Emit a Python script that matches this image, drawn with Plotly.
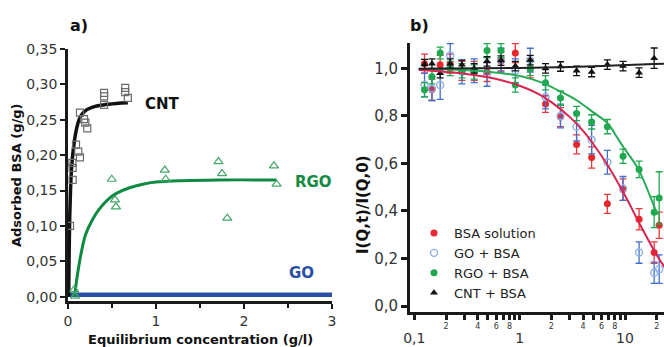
import plotly.graph_objects as go

FONT = "DejaVu Sans"

# ---------------- Panel a) data ----------------
cnt_conc = [0.023, 0.053, 0.053, 0.050, 0.091, 0.117, 0.136, 0.136, 0.182, 0.197, 0.219,
            0.41, 0.41, 0.41, 0.65, 0.65, 0.68]
cnt_ads = [0.100, 0.165, 0.182, 0.189, 0.215, 0.205, 0.197, 0.260, 0.251, 0.246, 0.238,
           0.288, 0.283, 0.271, 0.295, 0.289, 0.281]
rgo_conc = [0.07, 0.08, 0.497, 0.534, 0.545, 1.10, 1.11, 1.71, 1.75, 1.81, 2.34, 2.37]
rgo_ads = [0.010, 0.001, 0.166, 0.137, 0.127, 0.179, 0.166, 0.191, 0.174, 0.111, 0.185, 0.159]

cnt_fit_conc = [0.008, 0.011, 0.015, 0.020, 0.027, 0.036, 0.048, 0.062, 0.080, 0.100, 0.125,
                0.160, 0.210, 0.280, 0.400, 0.550, 0.680]
cnt_fit_ads = [0.000, 0.040, 0.080, 0.115, 0.145, 0.172, 0.193, 0.210, 0.226, 0.239, 0.250,
               0.258, 0.264, 0.268, 0.271, 0.273, 0.274]
rgo_fit_conc = [0.075, 0.10, 0.15, 0.20, 0.27, 0.35, 0.45, 0.55, 0.70, 0.85, 1.00, 1.30, 1.70, 2.37]
rgo_fit_ads = [0.000, 0.025, 0.062, 0.088, 0.107, 0.123, 0.137, 0.146, 0.154, 0.159, 0.162,
               0.164, 0.165, 0.165]
go_fit_conc = [0, 3]
go_fit_ads = [0.003, 0.003]

a_xticks = [0, 1, 2, 3]
a_xticklabels = ["0", "1", "2", "3"]
a_yticks = [0, 0.05, 0.10, 0.15, 0.20, 0.25, 0.30, 0.35]
a_yticklabels = ["0,00", "0,05", "0,10", "0,15", "0,20", "0,25", "0,30", "0,35"]

# ---------------- Panel b) data ----------------
t = [0.125, 0.147, 0.176, 0.219, 0.283, 0.37, 0.49, 0.665, 0.91, 1.26, 1.76, 2.44,
     3.47, 4.82, 6.8, 9.57, 13.6, 18.9, 21.1]
bsa_i = [1.02, 0.91, 1.015, 1.02, 0.99, 0.99, 0.985, 1.03, 1.065, 1.0, 0.85, 0.795,
         0.68, 0.625, 0.43, 0.49, 0.365, 0.225, 0.34]
bsa_err = [0.04, 0.045, 0.04, 0.04, 0.04, 0.04, 0.04, 0.04, 0.04, 0.04, 0.035, 0.04,
           0.04, 0.045, 0.04, 0.045, 0.045, 0.045, 0.055]
gob_i = [0.93, 0.915, 0.93, 1.055, 0.985, 0.99, 0.975, 1.035, 0.99, 1.035, 0.88, 0.80,
         0.755, 0.70, 0.605, 0.495, 0.225, 0.14, 0.155]
gob_err = [0.05, 0.05, 0.06, 0.05, 0.05, 0.05, 0.05, 0.05, 0.05, 0.05, 0.05, 0.05,
           0.06, 0.06, 0.05, 0.05, 0.045, 0.045, 0.06]
rgob_i = [0.91, 0.965, 1.065, 1.0, 0.99, 0.985, 1.075, 1.075, 0.93, 1.0, 0.94, 0.875,
          0.81, 0.775, 0.755, 0.63, 0.575, 0.395, 0.455]
rgob_err = [0.03, 0.03, 0.025, 0.03, 0.03, 0.03, 0.03, 0.03, 0.03, 0.03, 0.03, 0.03,
            0.03, 0.03, 0.03, 0.03, 0.035, 0.065, 0.11]
cntb_t = [0.125, 0.147, 0.176, 0.219, 0.283, 0.37, 0.49, 0.665, 0.91, 1.26, 1.76, 2.44,
          3.47, 4.82, 6.8, 9.57, 13.6, 18.9]
cntb_i = [1.018, 1.02, 0.98, 1.02, 1.015, 1.0, 1.03, 1.033, 1.01, 1.035, 1.0, 1.008,
          0.99, 0.985, 1.016, 1.01, 0.982, 1.043]
cntb_err = [0.02] * 17 + [0.043]

bsa_fit_t = [0.11, 0.2, 0.3, 0.5, 0.7, 1, 1.5, 2, 3, 4, 5, 7, 10, 14, 20, 25]
bsa_fit_i = [0.993, 0.985, 0.978, 0.963, 0.948, 0.927, 0.893, 0.858, 0.795, 0.737,
             0.682, 0.585, 0.465, 0.34, 0.215, 0.148]
rgob_fit_t = [0.11, 0.2, 0.3, 0.5, 0.9, 1.3, 1.8, 2.5, 3.5, 5, 6.8, 8.4, 9.6, 13.4, 19.3, 20.5]
rgob_fit_i = [0.998, 0.996, 0.993, 0.986, 0.972, 0.955, 0.932, 0.9, 0.865, 0.815, 0.77,
              0.71, 0.67, 0.575, 0.41, 0.385]
cntb_fit_t = [0.11, 1, 3, 6, 10, 16, 25]
cntb_fit_i = [0.999, 1.002, 1.006, 1.01, 1.014, 1.018, 1.02]

b_major = [0.1, 1, 10]
b_major_labels = ["0,1", "1", "10"]
b_minor = [0.2, 0.3, 0.4, 0.5, 0.6, 0.7, 0.8, 0.9, 2, 3, 4, 5, 6, 7, 8, 9, 20]
b_minor_labels = ["2", "", "4", "", "6", "", "8", "", "2", "", "4", "", "6", "", "8", "", "2"]
b_yticks = [0, 0.2, 0.4, 0.6, 0.8, 1.0]
b_yticklabels = ["0,0", "0,2", "0,4", "0,6", "0,8", "1,0"]

W, H = 664, 347

fig = go.Figure()

# ---- panel a traces ----
fig.add_trace(go.Scatter(x=go_fit_conc, y=go_fit_ads, mode="lines",
                         line=dict(color="#2b4ea6", width=4.5), showlegend=False,
                         xaxis="x", yaxis="y"))
fig.add_trace(go.Scatter(x=rgo_fit_conc, y=rgo_fit_ads, mode="lines",
                         line=dict(color="#0e8a42", width=3, shape="spline"), showlegend=False,
                         xaxis="x", yaxis="y"))
fig.add_trace(go.Scatter(x=cnt_fit_conc, y=cnt_fit_ads, mode="lines",
                         line=dict(color="#111111", width=3.5, shape="spline"), showlegend=False,
                         xaxis="x", yaxis="y"))
fig.add_trace(go.Scatter(x=cnt_conc, y=cnt_ads, mode="markers",
                         marker=dict(symbol="square-open", size=7, color="#6b6b6b",
                                     line=dict(width=1.2)),
                         showlegend=False, xaxis="x", yaxis="y"))
fig.add_trace(go.Scatter(x=rgo_conc, y=rgo_ads, mode="markers",
                         marker=dict(symbol="triangle-up-open", size=8, color="#46a66a",
                                     line=dict(width=1.2)),
                         showlegend=False, xaxis="x", yaxis="y"))

# ---- panel b traces ----
def err(vals, color):
    return dict(type="data", array=vals, visible=True, color=color, thickness=1.3, width=3.5)

fig.add_trace(go.Scatter(x=t, y=bsa_i, mode="markers", name="BSA solution",
                         marker=dict(symbol="circle", size=7, color="#e8282e"),
                         error_y=err(bsa_err, "#e8383e"), xaxis="x2", yaxis="y2"))
fig.add_trace(go.Scatter(x=t, y=gob_i, mode="markers", name="GO + BSA",
                         marker=dict(symbol="circle-open", size=7, color="#8fb0e6",
                                     line=dict(width=1.4)),
                         error_y=err(gob_err, "#3f6fcf"), xaxis="x2", yaxis="y2"))
fig.add_trace(go.Scatter(x=t, y=rgob_i, mode="markers", name="RGO + BSA",
                         marker=dict(symbol="circle", size=7, color="#1fa84f"),
                         error_y=err(rgob_err, "#1fa84f"), xaxis="x2", yaxis="y2"))
fig.add_trace(go.Scatter(x=cntb_t, y=cntb_i, mode="markers", name="CNT + BSA",
                         marker=dict(symbol="triangle-up", size=7, color="#111111"),
                         error_y=err(cntb_err, "#111111"), xaxis="x2", yaxis="y2"))
fig.add_trace(go.Scatter(x=rgob_fit_t, y=rgob_fit_i, mode="lines",
                         line=dict(color="#27aa55", width=2, shape="spline"), showlegend=False,
                         xaxis="x2", yaxis="y2"))
fig.add_trace(go.Scatter(x=bsa_fit_t, y=bsa_fit_i, mode="lines",
                         line=dict(color="#d9244f", width=2, shape="spline"), showlegend=False,
                         xaxis="x2", yaxis="y2"))
fig.add_trace(go.Scatter(x=cntb_fit_t, y=cntb_fit_i, mode="lines",
                         line=dict(color="#222222", width=2, shape="spline"), showlegend=False,
                         xaxis="x3", yaxis="y2"))

tickfont = dict(family=FONT, size=14, color="#333333")
axis_common = dict(showgrid=False, zeroline=False, showline=True, linecolor="#1a1a1a",
                   ticks="outside", tickcolor="#1a1a1a", automargin=False)

xr = [-1.041, 1.37]

fig.update_layout(
    width=W, height=H, autosize=False,
    margin=dict(l=0, r=0, t=0, b=0, pad=0, autoexpand=False),
    paper_bgcolor="white", plot_bgcolor="white",
    font=dict(family=FONT, color="#222222"),
    xaxis=dict(domain=[68 / W, 332 / W], range=[0, 3], anchor="y",
               tickvals=a_xticks, ticktext=a_xticklabels, tickfont=tickfont,
               linewidth=2.5, ticklen=5, tickwidth=2,
               minor=dict(tickvals=[0.5, 1.5, 2.5], ticks="outside", ticklen=4,
                          tickwidth=1.5, tickcolor="#1a1a1a"),
               **axis_common),
    yaxis=dict(domain=[(H - 301) / H, (H - 49) / H], range=[-0.006, 0.35], anchor="x",
               tickvals=a_yticks, ticktext=a_yticklabels, tickfont=tickfont,
               linewidth=2.5, ticklen=5, tickwidth=2, **axis_common),
    xaxis2=dict(domain=[410 / W, 1.0], type="log", range=xr, anchor="y2",
                tickvals=b_major + b_minor, ticktext=[""] * 3 + b_minor_labels,
                tickfont=dict(family=FONT, size=8, color="#333333"),
                linewidth=3, ticklen=5, tickwidth=2.5, **axis_common),
    xaxis3=dict(overlaying="x2", type="log", range=xr, anchor="y2", side="bottom",
                tickvals=b_major, ticktext=b_major_labels,
                tickfont=dict(family=FONT, size=14, color="#333333"),
                showgrid=False, zeroline=False, showline=False, automargin=False,
                ticks="outside", ticklen=7, tickwidth=3, tickcolor="#1a1a1a",
                ticklabelstandoff=6),
    yaxis2=dict(domain=[(H - 311.7) / H, (H - 43) / H], range=[-0.024, 1.107], anchor="x2",
                tickvals=b_yticks, ticktext=b_yticklabels,
                tickfont=dict(family=FONT, size=15, color="#333333"),
                linewidth=3, ticklen=6, tickwidth=3, **axis_common),
    legend=dict(x=414 / W, y=(H - 218) / H, xanchor="left", yanchor="top",
                bgcolor="rgba(0,0,0,0)", font=dict(family=FONT, size=13, color="#222222"),
                tracegroupgap=0),
)

ann = []
ann.append(dict(text="<b>a)</b>", x=68 / W, y=(H - 25) / H, xref="paper", yref="paper",
                xanchor="left", yanchor="middle", showarrow=False,
                font=dict(family=FONT, size=16, color="#111111")))
ann.append(dict(text="<b>b)</b>", x=408 / W, y=(H - 25) / H, xref="paper", yref="paper",
                xanchor="left", yanchor="middle", showarrow=False,
                font=dict(family=FONT, size=16, color="#111111")))
ann.append(dict(text="<b>Adsorbed BSA (g/g)</b>", x=16 / W, y=(H - 175) / H,
                xref="paper", yref="paper", textangle=-90, showarrow=False,
                xanchor="center", yanchor="middle",
                font=dict(family=FONT, size=13, color="#111111")))
ann.append(dict(text="<b>Equilibrium concentration (g/l)</b>", x=200 / W, y=(H - 339) / H,
                xref="paper", yref="paper", showarrow=False,
                xanchor="center", yanchor="middle",
                font=dict(family=FONT, size=13, color="#111111")))
ann.append(dict(text="<b>I(Q,t)/I(Q,0)</b>", x=363 / W, y=(H - 205) / H,
                xref="paper", yref="paper", textangle=-90, showarrow=False,
                xanchor="center", yanchor="middle",
                font=dict(family=FONT, size=15, color="#111111")))
ann.append(dict(text="<b>CNT</b>", x=(143 - 68) / 88, y=0.273, xref="x", yref="y",
                xanchor="left", yanchor="middle", showarrow=False,
                font=dict(family=FONT, size=15, color="#111111")))
ann.append(dict(text="<b>RGO</b>", x=(293 - 68) / 88, y=0.162, xref="x", yref="y",
                xanchor="left", yanchor="middle", showarrow=False,
                font=dict(family=FONT, size=15, color="#138a44")))
ann.append(dict(text="<b>GO</b>", x=(287 - 68) / 88, y=0.034, xref="x", yref="y",
                xanchor="left", yanchor="middle", showarrow=False,
                font=dict(family=FONT, size=15, color="#2b4ea6")))
fig.update_layout(annotations=ann)

fig.write_html("out.html", config={"displayModeBar": False},
               post_script="document.body.style.margin='0';document.body.style.overflow='hidden';")
